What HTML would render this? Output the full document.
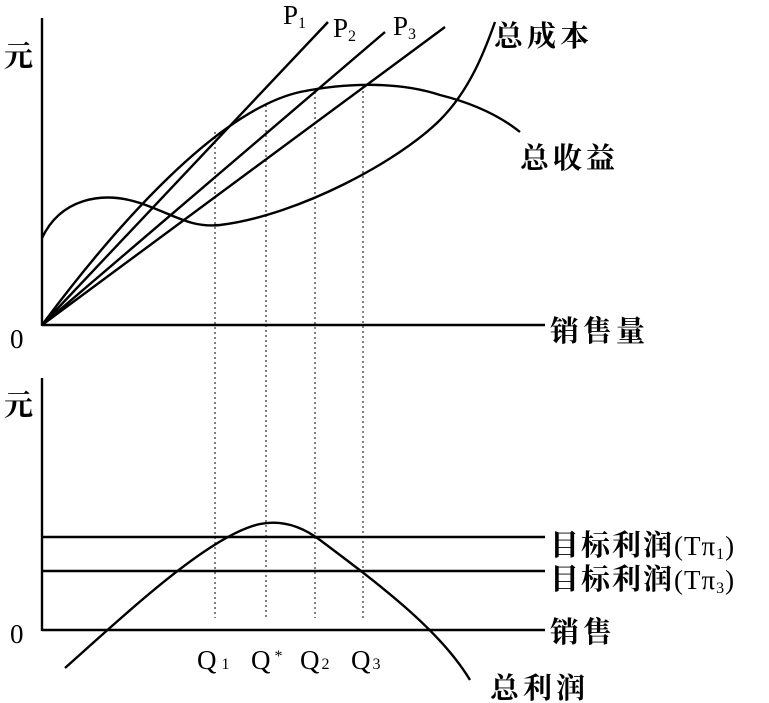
<!DOCTYPE html>
<html><head><meta charset="utf-8"><style>
html,body{margin:0;padding:0;background:#fff;}
svg{display:block;}
text{font-family:"Liberation Serif","Noto Serif CJK SC","Noto Sans CJK SC",serif;fill:#000;}
.c{font-family:"Noto Serif CJK SC","Noto Sans CJK SC",serif;font-size:29px;letter-spacing:4px;font-weight:bold;}
</style></head><body>
<svg width="769" height="703" viewBox="0 0 769 703" xmlns="http://www.w3.org/2000/svg">
<g stroke="#000" stroke-width="2.4" fill="none">
<line x1="42" y1="18" x2="42" y2="326"/>
<line x1="42" y1="325" x2="545" y2="325"/>
<line x1="42" y1="378" x2="42" y2="631"/>
<line x1="42" y1="630" x2="545" y2="630"/>
<line x1="42" y1="325" x2="328" y2="22"/>
<line x1="42" y1="325" x2="385" y2="32"/>
<line x1="42" y1="325" x2="445" y2="27"/>
<path d="M42,238 C60,200 100,190 140,203 C175,215 190,228 220,225 C300,215 400,160 440,120 C470,90 485,50 495,22"/>
<path d="M42,325 C120,220 220,110 300,92 C350,82 400,82 440,95 C480,105 505,120 520,132"/>
<line x1="42" y1="537" x2="545" y2="537"/>
<line x1="42" y1="571" x2="545" y2="571"/>
<path d="M65,668 C130,610 210,535 260,524 C280,520 300,525 320,540 C380,585 440,630 470,680"/>
</g>
<g stroke="#000" stroke-width="1" stroke-dasharray="2,3">
<line x1="215" y1="132" x2="215" y2="618"/>
<line x1="266" y1="105" x2="266" y2="618"/>
<line x1="315" y1="92" x2="315" y2="618"/>
<line x1="363" y1="86" x2="363" y2="618"/>
</g>
<g font-size="27">
<text x="4" y="66" class="c">元</text>
<text x="4" y="415" class="c">元</text>
<text x="10" y="348">0</text>
<text x="10" y="643">0</text>
<text x="283" y="24">P<tspan font-size="16" dy="4">1</tspan></text>
<text x="333" y="37">P<tspan font-size="16" dy="4">2</tspan></text>
<text x="393" y="35">P<tspan font-size="16" dy="4">3</tspan></text>
<text x="494" y="46" class="c">总成本</text>
<text x="520" y="168" class="c">总收益</text>
<text x="550" y="341" class="c">销售量</text>
<text x="550" y="555" class="c" style="letter-spacing:2px">目标利润<tspan font-weight="normal" font-family="Liberation Serif" font-size="27" style="letter-spacing:1px">(Tπ<tspan font-size="16" dy="4">1</tspan><tspan dy="-4">)</tspan></tspan></text>
<text x="550" y="589" class="c" style="letter-spacing:2px">目标利润<tspan font-weight="normal" font-family="Liberation Serif" font-size="27" style="letter-spacing:1px">(Tπ<tspan font-size="16" dy="4">3</tspan><tspan dy="-4">)</tspan></tspan></text>
<text x="550" y="642" class="c">销售</text>
<text x="197" y="669">Q<tspan font-size="16" dx="5">1</tspan></text>
<text x="251" y="669">Q<tspan font-size="16" dx="4" dy="-8">*</tspan></text>
<text x="300" y="669">Q<tspan font-size="16" dx="2">2</tspan></text>
<text x="351" y="669">Q<tspan font-size="16" dx="2">3</tspan></text>
<text x="490" y="698" class="c">总利润</text>
</g>
</svg>
</body></html>
